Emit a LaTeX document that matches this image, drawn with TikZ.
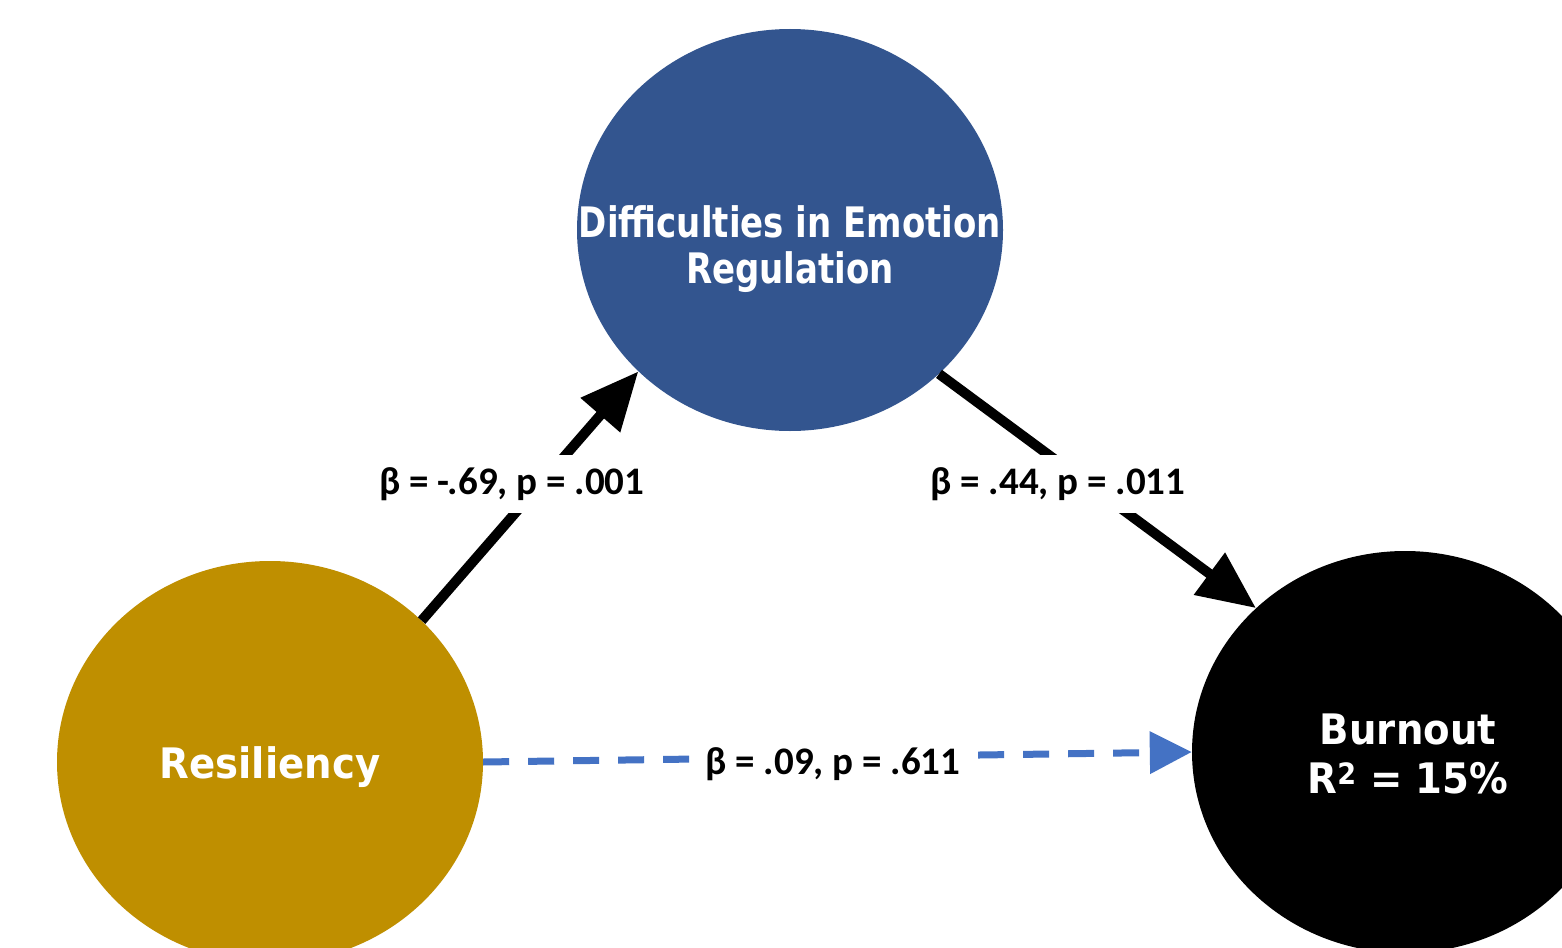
\documentclass[tikz,border=0pt]{standalone}
\usepackage{fontspec}
\setmainfont{Carlito}
\newfontfamily\nodefont{DejaVu Sans}[FakeStretch=0.81]
\newfontfamily\nodefontw{DejaVu Sans}[FakeStretch=0.92]
\newfontfamily\labfont{Carlito}
\usetikzlibrary{shapes.geometric,arrows.meta}
\definecolor{derblue}{RGB}{51,85,143}
\definecolor{resgold}{RGB}{191,143,0}
\definecolor{dashblue}{RGB}{68,114,196}
\tikzset{
  var/.style={ellipse, inner sep=0pt, minimum width=426pt, minimum height=402pt, align=center},
  vtext/.style={text=white, align=center},
  path/.style={line width=10pt, black, -{Triangle[length=58pt,width=50pt]}},
  dpath/.style={line width=7pt, dashblue, dash pattern=on 26pt off 19pt, -{Triangle[length=42pt,width=41pt]}},
  lab/.style={fill=white, inner xsep=14pt, inner ysep=12pt, font=\labfont\fontsize{39}{44}\selectfont\bfseries}
}
\begin{document}
\begin{tikzpicture}[x=1pt,y=-1pt]
\useasboundingbox (0,0) rectangle (1562,947);
\clip (0,0) rectangle (1562,947);
\fill[white] (0,0) rectangle (1562,947);
\node[var, fill=derblue, label={[vtext, font=\nodefont\fontsize{42}{46}\selectfont\bfseries, yshift=-19pt]center:Difficulties in Emotion\\Regulation}] (der) at (790,230) {};
\node[var, fill=resgold, label={[vtext, font=\nodefontw\fontsize{42}{48}\selectfont\bfseries, yshift=-5pt]center:Resiliency}] (res) at (270,762) {};
\node[var, fill=black, label={[vtext, font=\nodefontw\fontsize{42}{49}\selectfont\bfseries, xshift=3pt, yshift=-2pt]center:Burnout\\R\textsuperscript{2} = 15\%}] (bur) at (1405,752) {};
\draw[path] (res.43.4) -- (der.223.8);
\draw[path] (der.316.6) -- (bur.136.5);
\draw[dpath] (res.east) -- (bur.west);
\node[lab] (l1) at (512,484) {β = -.69, p = .001};
\node[lab] (l2) at (1058,484) {β = .44, p = .011};
\node[lab] (l3) at (833,764) {β = .09, p = .611};
\end{tikzpicture}
\end{document}
